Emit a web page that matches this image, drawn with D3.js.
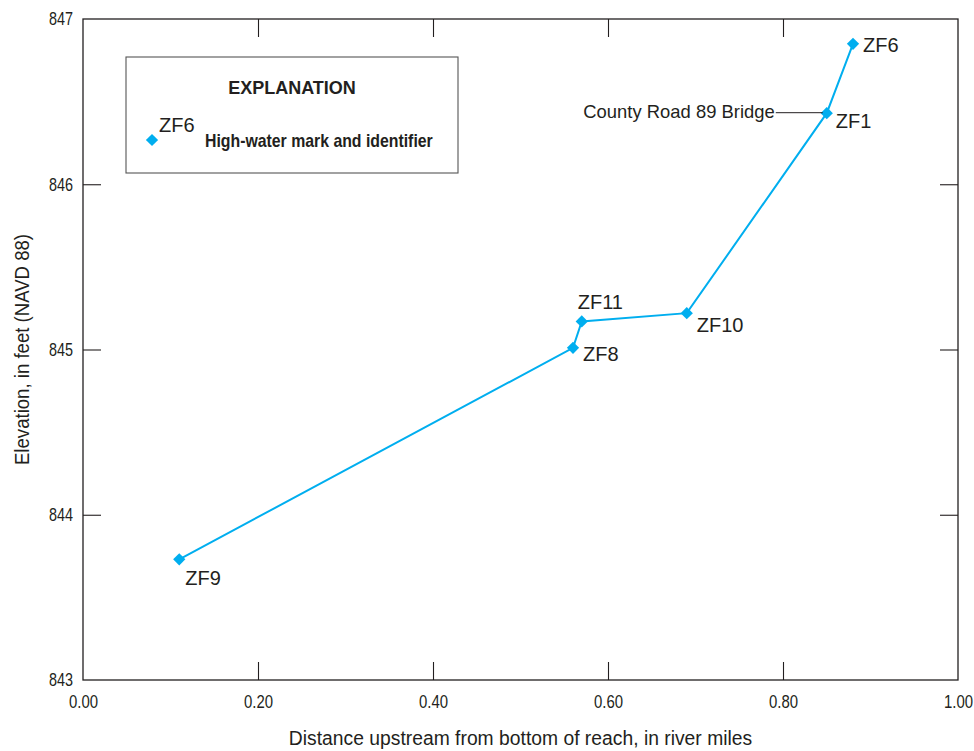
<!DOCTYPE html>
<html>
<head>
<meta charset="utf-8">
<script src="https://cdn.jsdelivr.net/npm/d3@7"></script>
<style>
  html, body { margin: 0; padding: 0; background: #fff; }
  svg { display: block; }
  text { font-family: "Liberation Sans", Arial, sans-serif; fill: #231f20; }
</style>
</head>
<body>
<svg id="chart" width="974" height="751"></svg>
<script>
// High-water marks along the reach
const markIds   = ["ZF9", "ZF8", "ZF11", "ZF10", "ZF1", "ZF6"];
const distance  = [0.11, 0.56, 0.57, 0.69, 0.85, 0.88];            // river miles
const elevation = [843.73, 845.01, 845.17, 845.22, 846.43, 846.85]; // feet, NAVD 88

const xTicks = [0.0, 0.2, 0.4, 0.6, 0.8, 1.0];
const yTicks = [843, 844, 845, 846, 847];

const lineColor = "#00aeef";
const ink = "#231f20";

const margin = { left: 83, top: 19, right: 16, bottom: 71 };
const W = 974, H = 751;
const innerW = W - margin.left - margin.right;
const innerH = H - margin.top - margin.bottom;

const svg = d3.select("#chart");
const g = svg.append("g").attr("transform", `translate(${margin.left},${margin.top})`);

const x = d3.scaleLinear().domain([0, 1]).range([0, innerW]);
const y = d3.scaleLinear().domain([843, 847]).range([innerH, 0]);

const tickLen = 18;

// Narrowed lettering: squeeze text horizontally about its own anchor
function narrow(sel, sx) {
  sel.each(function () {
    const t = d3.select(this);
    const tx = +t.attr("x") || 0, ty = +t.attr("y") || 0;
    t.attr("x", 0).attr("y", 0)
     .attr("transform", `translate(${tx},${ty}) scale(${sx},1)`);
  });
}

// Frame
g.append("rect").attr("x", 0).attr("y", 0).attr("width", innerW).attr("height", innerH)
  .attr("fill", "none").attr("stroke", ink).attr("stroke-width", 1.3);

// Bottom axis with inward ticks
const xAxis = g.append("g").attr("transform", `translate(0,${innerH})`)
  .call(d3.axisBottom(x).tickValues(xTicks).tickFormat(d3.format(".2f"))
    .tickSizeInner(-tickLen).tickSizeOuter(0).tickPadding(15));
xAxis.select(".domain").remove();
xAxis.selectAll("line").attr("stroke", ink).attr("stroke-width", 1.1);
xAxis.selectAll("text").style("font-size", "18px").attr("fill", ink);
narrow(xAxis.selectAll("text"), 0.83);
xAxis.selectAll(".tick").filter(d => d === 0 || d === 1).select("line").remove();

// Top ticks
const xTop = g.append("g")
  .call(d3.axisTop(x).tickValues(xTicks.filter(d => d > 0 && d < 1)).tickFormat("")
    .tickSizeInner(-tickLen).tickSizeOuter(0));
xTop.select(".domain").remove();
xTop.selectAll("line").attr("stroke", ink).attr("stroke-width", 1.1);

// Left axis
const yAxis = g.append("g")
  .call(d3.axisLeft(y).tickValues(yTicks).tickFormat(d3.format("d"))
    .tickSizeInner(-tickLen).tickSizeOuter(0).tickPadding(10));
yAxis.select(".domain").remove();
yAxis.selectAll("line").attr("stroke", ink).attr("stroke-width", 1.1);
yAxis.selectAll("text").style("font-size", "18px").attr("fill", ink);
narrow(yAxis.selectAll("text"), 0.8);
yAxis.selectAll(".tick").filter(d => d === 843 || d === 847).select("line").remove();

// Right ticks
const yRight = g.append("g").attr("transform", `translate(${innerW},0)`)
  .call(d3.axisRight(y).tickValues(yTicks.filter(d => d > 843 && d < 847)).tickFormat("")
    .tickSizeInner(-tickLen).tickSizeOuter(0));
yRight.select(".domain").remove();
yRight.selectAll("line").attr("stroke", ink).attr("stroke-width", 1.1);

// Axis titles
svg.append("text")
  .attr("transform", `translate(${margin.left + innerW / 2},745) scale(0.92,1)`)
  .attr("text-anchor", "middle").style("font-size", "21px")
  .text("Distance upstream from bottom of reach, in river miles");

svg.append("text")
  .attr("transform", `translate(29,${margin.top + innerH / 2}) rotate(-90) scale(0.93,1)`)
  .attr("text-anchor", "middle").style("font-size", "20px")
  .text("Elevation, in feet (NAVD 88)");

// Profile line
const pts = distance.map((d, i) => ({ id: markIds[i], d, e: elevation[i] }));
g.append("path").datum(pts)
  .attr("fill", "none").attr("stroke", lineColor).attr("stroke-width", 2)
  .attr("d", d3.line().x(p => x(p.d)).y(p => y(p.e)));

// Diamond markers
const diamond = d3.symbol().type(d3.symbolSquare).size(75);
g.selectAll(".mark").data(pts).join("path")
  .attr("class", "mark")
  .attr("d", diamond)
  .attr("fill", lineColor)
  .attr("transform", p => `translate(${x(p.d)},${y(p.e)}) rotate(45)`);

// Identifier placement relative to each marker
const labelOffset = {
  ZF9:  [6, 26],
  ZF8:  [10, 13],
  ZF11: [-4, -12],
  ZF10: [10, 19],
  ZF1:  [9, 15],
  ZF6:  [10, 8]
};
g.selectAll(".lbl").data(pts).join("text")
  .attr("class", "lbl")
  .attr("x", p => x(p.d) + labelOffset[p.id][0])
  .attr("y", p => y(p.e) + labelOffset[p.id][1])
  .style("font-size", "20px")
  .text(p => p.id);

// Bridge callout at ZF1
const zf1 = pts.find(p => p.id === "ZF1");
g.append("line")
  .attr("x1", x(zf1.d) - 51).attr("x2", x(zf1.d) - 4)
  .attr("y1", y(zf1.e) - 0.5).attr("y2", y(zf1.e) - 0.5)
  .attr("stroke", ink).attr("stroke-width", 1);
g.append("text")
  .attr("transform", `translate(${x(zf1.d) - 52},${y(zf1.e) + 5}) scale(0.97,1)`)
  .attr("text-anchor", "end").style("font-size", "19px")
  .text("County Road 89 Bridge");

// Explanation box
const lg = svg.append("g").attr("transform", "translate(126,57)");
lg.append("rect").attr("width", 332).attr("height", 116)
  .attr("fill", "#fff").attr("stroke", "#555").attr("stroke-width", 1.1);
lg.append("text").attr("x", 166).attr("y", 37).attr("text-anchor", "middle")
  .style("font-size", "18px").style("font-weight", "bold").text("EXPLANATION");
lg.append("path").attr("d", diamond).attr("fill", lineColor)
  .attr("transform", "translate(26,83) rotate(45)");
lg.append("text").attr("x", 33).attr("y", 75).style("font-size", "20px").text("ZF6");
lg.append("text").attr("transform", "translate(79,90) scale(0.88,1)")
  .style("font-size", "18px").style("font-weight", "bold")
  .text("High-water mark and identifier");
</script>
</body>
</html>
